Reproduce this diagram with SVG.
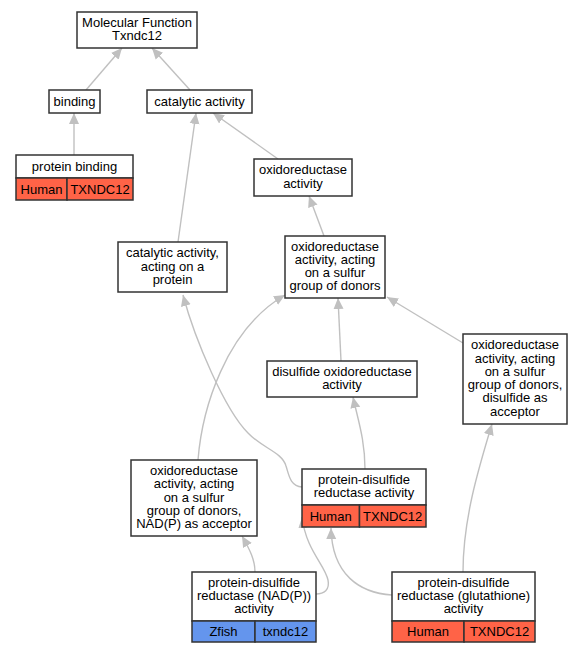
<svg xmlns="http://www.w3.org/2000/svg" width="583" height="653" viewBox="0 0 583 653">
<style>
.box{fill:#ffffff;stroke:#333333;stroke-width:1.5}
.hu{fill:#ff6347;stroke:#333333;stroke-width:1.5}
.zf{fill:#6495ed;stroke:#333333;stroke-width:1.5}
text{font-family:"Liberation Sans",Arial,sans-serif;font-size:13px;fill:#000000;text-anchor:middle}
.e{fill:none;stroke:#c0c0c0;stroke-width:1.4}
</style>
<defs>
<marker id="arr" markerUnits="userSpaceOnUse" markerWidth="12" markerHeight="11" refX="11" refY="5" orient="auto" viewBox="0 0 12 10">
<path d="M0,0 L11,5 L0,10 z" fill="#c0c0c0"/>
</marker>
</defs>
<g id="edges">
<path class="e" marker-end="url(#arr)" d="M86,90 L122,48"/>
<path class="e" marker-end="url(#arr)" d="M190,90 L152,48"/>
<path class="e" marker-end="url(#arr)" d="M74,155 L74,113"/>
<path class="e" marker-end="url(#arr)" d="M278,159 L213,113"/>
<path class="e" marker-end="url(#arr)" d="M178,242 L196,113"/>
<path class="e" marker-end="url(#arr)" d="M324,236 L309,196"/>
<path class="e" marker-end="url(#arr)" d="M341,361 L338,298"/>
<path class="e" marker-end="url(#arr)" d="M463,343 L387,297"/>
<path class="e" marker-end="url(#arr)" d="M198,460 C202,410 225,330 285,295"/>
<path class="e" marker-end="url(#arr)" d="M302,487 C290,486 289,475 286,466 C282,452 262,448 248,433 C225,410 195,340 183,295"/>
<path class="e" marker-end="url(#arr)" d="M365,469 C365,440 358,420 353,397"/>
<path class="e" marker-end="url(#arr)" d="M255,572 C255,560 250,550 242,536"/>
<path class="e" marker-end="url(#arr)" d="M316,594 C324,594 330,590 328,580 C325,565 306,550 302,517"/>
<path class="e" marker-end="url(#arr)" d="M392,595 C360,593 332,575 331,528"/>
<path class="e" marker-end="url(#arr)" d="M463,572 C463,520 478,470 492,424"/>
</g>
<g id="mf">
<rect class="box" x="77" y="12" width="120" height="36"/>
<text x="137" y="26.5">Molecular Function</text>
<text x="137" y="39.8">Txndc12</text>
</g>
<g id="binding">
<rect class="box" x="49" y="90" width="51" height="23"/>
<text x="74.5" y="105.5">binding</text>
</g>
<g id="catalytic">
<rect class="box" x="147" y="90" width="105" height="23"/>
<text x="199.5" y="105.5">catalytic activity</text>
</g>
<g id="protein_binding">
<rect class="box" x="16" y="155" width="117" height="23"/>
<rect class="hu" x="16" y="178" width="51" height="22"/>
<rect class="hu" x="67" y="178" width="66" height="22"/>
<text x="74.5" y="170.5">protein binding</text>
<text x="41.5" y="193.5">Human</text>
<text x="100" y="193.5">TXNDC12</text>
</g>
<g id="oxidoreductase">
<rect class="box" x="254" y="159" width="98" height="37"/>
<text x="303" y="174.3">oxidoreductase</text>
<text x="303" y="187.6">activity</text>
</g>
<g id="cat_protein">
<rect class="box" x="118" y="242" width="109" height="50"/>
<text x="172.5" y="257.2">catalytic activity,</text>
<text x="172.5" y="270.5">acting on a</text>
<text x="172.5" y="283.8">protein</text>
</g>
<g id="sulfur">
<rect class="box" x="285" y="236" width="100" height="62"/>
<text x="335" y="250.5">oxidoreductase</text>
<text x="335" y="263.8">activity, acting</text>
<text x="335" y="277.1">on a sulfur</text>
<text x="335" y="290.4">group of donors</text>
</g>
<g id="disulfide_ox">
<rect class="box" x="267" y="361" width="150" height="36"/>
<text x="342" y="375.8">disulfide oxidoreductase</text>
<text x="342" y="389.1">activity</text>
</g>
<g id="disulfide_acc">
<rect class="box" x="463" y="334" width="104" height="90"/>
<text x="515" y="349.2">oxidoreductase</text>
<text x="515" y="362.5">activity, acting</text>
<text x="515" y="375.8">on a sulfur</text>
<text x="515" y="389.1">group of donors,</text>
<text x="515" y="402.4">disulfide as</text>
<text x="515" y="415.7">acceptor</text>
</g>
<g id="nadp_acc">
<rect class="box" x="131" y="460" width="126" height="76"/>
<text x="194" y="474.9">oxidoreductase</text>
<text x="194" y="488.2">activity, acting</text>
<text x="194" y="501.5">on a sulfur</text>
<text x="194" y="514.8">group of donors,</text>
<text x="194" y="528.1">NAD(P) as acceptor</text>
</g>
<g id="pdr">
<rect class="box" x="302" y="469" width="124" height="36"/>
<rect class="hu" x="302" y="505" width="57.5" height="22"/>
<rect class="hu" x="359.5" y="505" width="66.5" height="22"/>
<text x="364" y="483.8">protein-disulfide</text>
<text x="364" y="497.1">reductase activity</text>
<text x="330.7" y="520.5">Human</text>
<text x="392.7" y="520.5">TXNDC12</text>
</g>
<g id="pdr_nadp">
<rect class="box" x="192" y="572" width="124" height="49"/>
<rect class="zf" x="192" y="621" width="63" height="21"/>
<rect class="zf" x="255" y="621" width="61" height="21"/>
<text x="254" y="586.7">protein-disulfide</text>
<text x="254" y="600">reductase (NAD(P))</text>
<text x="254" y="613.3">activity</text>
<text x="223.5" y="636">Zfish</text>
<text x="285.5" y="636">txndc12</text>
</g>
<g id="pdr_glut">
<rect class="box" x="392" y="572" width="143" height="49"/>
<rect class="hu" x="392" y="621" width="72" height="21"/>
<rect class="hu" x="464" y="621" width="71" height="21"/>
<text x="463.5" y="586.7">protein-disulfide</text>
<text x="463.5" y="600">reductase (glutathione)</text>
<text x="463.5" y="613.3">activity</text>
<text x="428" y="636">Human</text>
<text x="499.5" y="636">TXNDC12</text>
</g>
</svg>
